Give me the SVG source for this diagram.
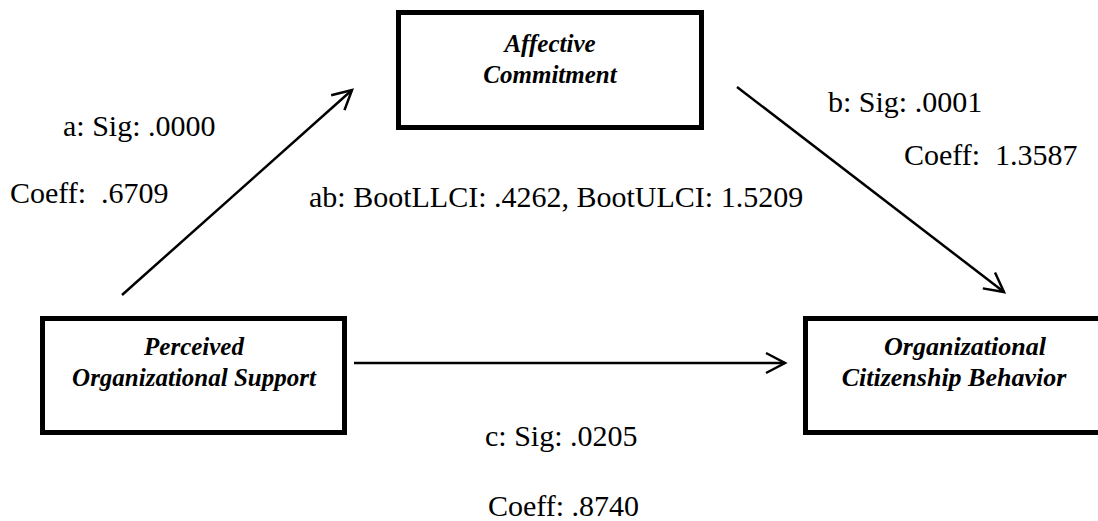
<svg xmlns="http://www.w3.org/2000/svg" width="1098" height="521" viewBox="0 0 1098 521">
<style>
.box{fill:#fff;stroke:#000;stroke-width:5}
.nl{font-style:italic;font-weight:bold;font-size:25px;fill:#000;text-anchor:middle}
.big{font-size:26px}
.lbl{font-size:30px;fill:#000}
.conn{stroke:#000;stroke-width:2.5;fill:none;marker-end:url(#arr)}
</style>
<defs>
<marker id="arr" markerUnits="userSpaceOnUse" markerWidth="30" markerHeight="30" refX="0" refY="0" orient="auto" viewBox="-25 -15 30 30" overflow="visible">
<path d="M-19,-10 L0,0 L-19,10" fill="none" stroke="#000" stroke-width="2.5"/>
</marker>
</defs>
<rect width="1098" height="521" fill="#fff"/>
<g id="connectors">
<line class="conn" x1="122" y1="295" x2="352" y2="90"/>
<line class="conn" x1="737" y1="87" x2="1004" y2="292"/>
<line class="conn" x1="354" y1="363" x2="785" y2="363"/>
</g>
<g font-family="Liberation Serif, DejaVu Serif, serif">
<g id="node-ac">
<rect class="box" x="398.5" y="12.5" width="303" height="115"/>
<text class="nl" x="550" y="52">Affective</text>
<text class="nl" x="550" y="83">Commitment</text>
</g>
<g id="node-pos">
<rect class="box" x="42.5" y="318.5" width="302" height="114"/>
<text class="nl" x="194" y="355">Perceived</text>
<text class="nl" x="194" y="386">Organizational Support</text>
</g>
<g id="node-ocb">
<rect class="box" x="805.5" y="318.5" width="300" height="114"/>
<text class="nl big" x="965" y="355">Organizational</text>
<text class="nl big" x="954" y="386">Citizenship Behavior</text>
</g>
<g id="labels">
<text class="lbl" x="63" y="136">a: Sig: .0000</text>
<text class="lbl" x="10" y="203" xml:space="preserve">Coeff:  .6709</text>
<text class="lbl" x="309" y="207">ab: BootLLCI: .4262, BootULCI: 1.5209</text>
<text class="lbl" x="828" y="112">b: Sig: .0001</text>
<text class="lbl" x="904" y="165" xml:space="preserve">Coeff:  1.3587</text>
<text class="lbl" x="485" y="446">c: Sig: .0205</text>
<text class="lbl" x="488" y="516">Coeff: .8740</text>
</g>
</g>
</svg>
